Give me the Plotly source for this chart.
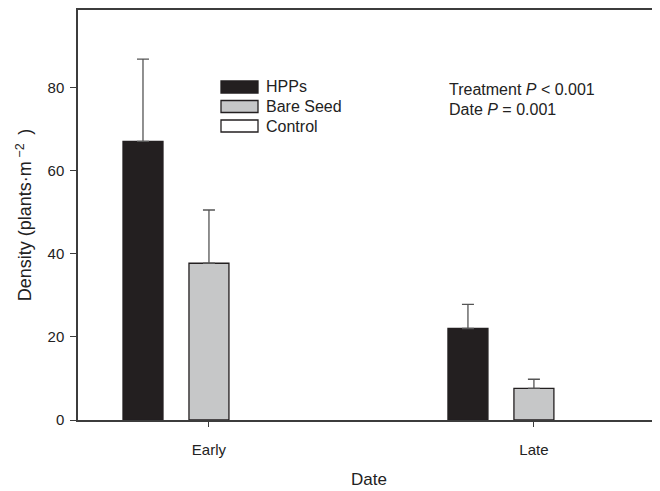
import plotly.graph_objects as go

dates = ["Early", "Late"]
series_names = ["HPPs", "Bare Seed", "Control"]
hpps = [67.0, 22.0]
hpps_err = [19.8, 5.8]
bare_seed = [37.7, 7.6]
bare_seed_err = [12.8, 2.2]
control = [0.0, 0.0]
control_err = [0.0, 0.0]

values = [hpps, bare_seed, control]
errors = [hpps_err, bare_seed_err, control_err]
fills = ["#231f20", "#c6c7c8", "#ffffff"]
edge = "#231f20"
axis_col = "#3c3c3c"
FONT = "Liberation Sans, Arial, sans-serif"

# page body has an 8px margin; the figure is sized/offset to compensate
W, H = 652, 483
L, R, T, B = 70, 0, 2, 71

fig = go.Figure()
for name, v, e, c in zip(series_names, values, errors, fills):
    fig.add_trace(go.Bar(
        x=dates, y=v, name=name,
        marker=dict(color=c, line=dict(color=edge,
                                       width=[1.3 if val > 0 else 0 for val in v])),
        error_y=dict(type="data", array=e, arrayminus=[0] * len(e),
                     symmetric=False, color="#555555", thickness=1.3, width=6,
                     visible=any(x > 0 for x in e)),
        showlegend=False,
    ))

pw, ph = W - L - R, H - T - B
def px(x):  # page pixel -> paper
    return (x - 8 - L) / pw
def py(y):
    return (H - B - (y - 8)) / ph

shapes = []
annotations = []
box_x0, box_x1 = 221, 258
tops = [81, 100.5, 120]
for name, c, top in zip(series_names, fills, tops):
    shapes.append(dict(type="rect", xref="paper", yref="paper",
                       x0=px(box_x0), x1=px(box_x1), y0=py(top + 12), y1=py(top),
                       fillcolor=c, line=dict(color=edge, width=1.3)))
    annotations.append(dict(xref="paper", yref="paper", x=px(264), y=py(top + 6),
                            text=name, showarrow=False, xanchor="left", yanchor="middle",
                            font=dict(family=FONT, size=16, color="#222")))

annotations.append(dict(xref="paper", yref="paper", x=px(447), y=py(90),
                        text="Treatment <i>P</i> < 0.001", showarrow=False,
                        xanchor="left", yanchor="middle",
                        font=dict(family=FONT, size=16, color="#222")))
annotations.append(dict(xref="paper", yref="paper", x=px(447), y=py(109),
                        text="Date <i>P</i> = 0.001", showarrow=False,
                        xanchor="left", yanchor="middle",
                        font=dict(family=FONT, size=16, color="#222")))

fig.update_layout(
    width=W, height=H,
    margin=dict(l=L, r=R, t=T, b=B),
    paper_bgcolor="white", plot_bgcolor="white",
    barmode="group", bargap=0.391, bargroupgap=0.394,
    font=dict(family=FONT, color="#222"),
    shapes=shapes, annotations=annotations,
    xaxis=dict(type="category", range=[-0.403, 1.388],
               showline=True, linecolor=axis_col, linewidth=1.5, mirror=True,
               ticks="outside", ticklen=5, tickcolor=axis_col, tickwidth=1.3,
               tickfont=dict(family=FONT, size=15, color="#222"),
               ticklabelstandoff=10,
               showgrid=False, zeroline=False,
               title=dict(text="Date", font=dict(family=FONT, size=17, color="#222"),
                          standoff=16)),
    yaxis=dict(range=[0, 98.6], tickvals=[0, 20, 40, 60, 80],
               showline=True, linecolor=axis_col, linewidth=1.5, mirror=False,
               ticks="outside", ticklen=6, tickcolor=axis_col, tickwidth=1.3,
               tickfont=dict(family=FONT, size=15, color="#222"),
               ticklabelstandoff=3,
               showgrid=False, zeroline=False,
               title=dict(text="Density (plants·m<sup> −2 </sup> )",
                          font=dict(family=FONT, size=18, color="#222"),
                          standoff=11)),
)

fig.write_html("out.html")
